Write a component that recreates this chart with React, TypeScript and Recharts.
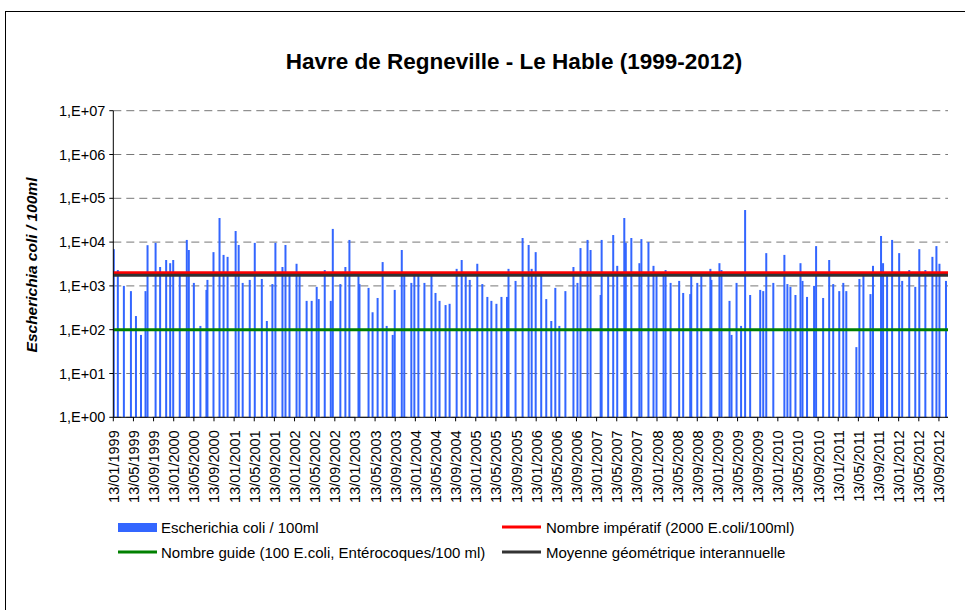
import React from 'react';
import { BarChart, Bar, XAxis, YAxis, CartesianGrid, ReferenceLine } from 'recharts';

// months elapsed since 13/01/1999 for each sample
const sampleMonths = [
  0.1, 0.9, 2.1, 3.5, 4.5, 5.5, 6.4, 6.8, 8.4, 9.3, 10.5, 11.3, 11.9, 13.2, 14.6, 15.0,
  16.0, 17.3, 18.5, 18.7, 19.9, 21.1, 21.9, 22.7, 24.3, 24.9, 25.7, 27.1, 28.1, 29.5, 30.5,
  31.6, 32.2, 33.6, 34.2, 35.0, 36.4, 37.0, 38.4, 39.4, 40.4, 40.8, 42.0, 43.2, 43.6, 45.1,
  46.1, 46.9, 48.7, 48.9, 50.7, 51.5, 52.5, 53.5, 54.3, 55.5, 55.9, 57.3, 57.8, 59.2, 59.8,
  60.6, 61.8, 63.2, 64.0, 64.8, 66.0, 66.8, 68.2, 69.2, 70.0, 70.8, 72.3, 73.3, 74.3, 75.1,
  76.1, 77.1, 78.2, 78.5, 79.9, 81.3, 82.5, 83.1, 83.9, 85.0, 86.0, 87.0, 87.8, 88.6, 89.8,
  91.4, 92.2, 92.8, 94.2, 94.8, 96.8, 97.0, 98.3, 99.3, 100.1, 101.5, 101.8, 102.9, 104.5,
  104.9, 106.3, 107.3, 107.9, 109.3, 109.7, 110.7, 112.4, 113.2, 114.6, 114.8, 116.0, 116.8,
  118.6, 118.8, 120.4, 120.8, 122.4, 122.8, 123.8, 124.7, 125.5, 126.5, 128.5, 129.1, 129.7,
  131.1, 133.3, 133.9, 134.5, 135.5, 136.5, 136.9, 137.8, 139.2, 139.6, 141.0, 142.2, 143.0,
  144.2, 145.0, 145.6, 147.6, 148.2, 149.0, 150.4, 150.9, 152.5, 152.9, 153.7, 154.7, 156.1,
  156.7, 158.1, 159.3, 160.1, 161.3, 162.7, 163.5, 164.1, 165.4,
];

// Escherichia coli / 100ml
const ecoliValues = [
  6900, 2300, 1000, 760, 205, 76, 760, 8500, 9600, 2700, 3900, 3300, 3900, 2000, 11200, 6600,
  1170, 122, 810, 1370, 5900, 35500, 5100, 4600, 17900, 8600, 1170, 1370, 9600, 1440, 158,
  1100, 9600, 2700, 8600, 2000, 3200, 1900, 455, 455, 950, 500, 2300, 455, 20000, 1100,
  2700, 11200, 2000, 1100, 900, 250, 530, 3500, 122, 76, 810, 6600, 1900, 1170, 2000,
  1900, 1170, 2000, 690, 455, 365, 390, 2450, 3900, 2000, 1370, 3200, 1100, 560, 455,
  390, 560, 560, 2450, 1300, 12400, 8600, 2450, 5900, 2000, 500, 158, 900, 122, 760,
  2700, 1170, 7300, 11200, 6600, 620, 11200, 2000, 14500, 2870, 35500, 9600, 12400, 3300,
  11700, 10000, 2870, 2000, 2000, 2300, 1170, 1300, 690, 650, 2000, 1170, 2000,
  2450, 1370, 3300, 2300, 455, 76, 1170, 122, 54000, 620, 810, 760, 5600,
  1170, 5100, 1100, 950, 620, 3300, 1300, 560, 1000, 8100, 530, 3900, 1100,
  760, 1170, 760, 40, 1440, 2000, 650, 2870, 13800, 3300, 2000, 11200, 5600,
  1300, 2300, 950, 6900, 2300, 4600, 8100, 3200, 1300,
];

const tickLabels = [
  '13/01/1999', '13/05/1999', '13/09/1999', '13/01/2000', '13/05/2000', '13/09/2000',
  '13/01/2001', '13/05/2001', '13/09/2001', '13/01/2002', '13/05/2002', '13/09/2002',
  '13/01/2003', '13/05/2003', '13/09/2003', '13/01/2004', '13/05/2004', '13/09/2004',
  '13/01/2005', '13/05/2005', '13/09/2005', '13/01/2006', '13/05/2006', '13/09/2006',
  '13/01/2007', '13/05/2007', '13/09/2007', '13/01/2008', '13/05/2008', '13/09/2008',
  '13/01/2009', '13/05/2009', '13/09/2009', '13/01/2010', '13/05/2010', '13/09/2010',
  '13/01/2011', '13/05/2011', '13/09/2011', '13/01/2012', '13/05/2012', '13/09/2012',
];
const xTicks = tickLabels.map((_, i) => i * 4);
const yTicks = [1, 10, 100, 1000, 10000, 100000, 1000000, 10000000];

const imperativeLevel = 2000;
const guideLevel = 100;
const geoMeanLevel = 1750;

const data = sampleMonths.map((m, i) => ({ month: m, ecoli: ecoliValues[i] }));

const FONT = '"Liberation Sans", Arial, sans-serif';
const BLUE = '#3366FF';

const formatPower = (v: number) => `1,E+${String(Math.round(Math.log10(v))).padStart(2, '0')}`;

function DateTick(props: any) {
  const { x, y, index } = props;
  const tx = x + 5.5;
  const ty = y + 7;
  return (
    <text
      x={tx}
      y={ty}
      transform={`rotate(-90 ${tx} ${ty})`}
      textAnchor="end"
      fontSize={14.5}
      fontFamily={FONT}
      fill="#000"
    >
      {tickLabels[index]}
    </text>
  );
}

function ThinBar(props: any) {
  const { x, y, width, height } = props;
  if (!height || height <= 0) return null;
  return <rect x={x + width / 2 - 1} y={y} width={2} height={height} fill={BLUE} />;
}

export default function App() {
  return (
    <div style={{ position: 'absolute', left: 0, top: 0, width: 965, height: 610, background: '#fff', overflow: 'hidden' }}>
      <div style={{ position: 'absolute', left: 0, top: 0 }}>
        <BarChart
          width={965}
          height={610}
          data={data}
          margin={{ top: 110.7, right: 17, bottom: 102.7, left: 53.3 }}
        >
          <CartesianGrid vertical={false} stroke="#777" strokeDasharray="8 5" />
          <XAxis
            type="number"
            dataKey="month"
            domain={[0, 165.8]}
            ticks={xTicks}
            interval={0}
            tick={<DateTick />}
            tickSize={4}
            height={90}
            stroke="#000"
            allowDataOverflow
          />
          <YAxis
            type="number"
            scale="log"
            domain={[1, 10000000]}
            ticks={yTicks}
            interval={0}
            tickFormatter={formatPower}
            tick={{ fontSize: 14.5, fontFamily: FONT, fill: '#000' }}
            tickSize={4}
            tickMargin={4}
            width={60}
            stroke="#000"
            allowDataOverflow
          />
          <Bar dataKey="ecoli" fill={BLUE} shape={<ThinBar />} isAnimationActive={false} />
          <ReferenceLine y={guideLevel} stroke="#008000" strokeWidth={3} />
          <ReferenceLine y={imperativeLevel} stroke="#ff0000" strokeWidth={3} />
          <ReferenceLine y={geoMeanLevel} stroke="#333333" strokeWidth={3} />
        </BarChart>
      </div>
      <svg
        width={965}
        height={610}
        style={{ position: 'absolute', left: 0, top: 0, pointerEvents: 'none' }}
        fontFamily={FONT}
      >
        <rect x={5.5} y={11.5} width={980} height={620} fill="none" stroke="#000" strokeWidth={1} />
        <text x={514} y={69} textAnchor="middle" fontSize={22.5} fontWeight="bold">
          Havre de Regneville - Le Hable (1999-2012)
        </text>
        <text
          x={31}
          y={265}
          transform="rotate(-90 31 265)"
          textAnchor="middle"
          dominantBaseline="central"
          fontSize={15.5}
          fontWeight="bold"
          fontStyle="italic"
        >
          Escherichia coli / 100ml
        </text>
        <rect x={118} y={523} width={39} height={9} fill={BLUE} />
        <text x={161} y={532.5} fontSize={15}>Escherichia coli / 100ml</text>
        <line x1={502} x2={541} y1={527} y2={527} stroke="#ff0000" strokeWidth={3} />
        <text x={546} y={532.5} fontSize={15}>Nombre impératif (2000 E.coli/100ml)</text>
        <line x1={118} x2={157} y1={552} y2={552} stroke="#008000" strokeWidth={3} />
        <text x={161} y={557.5} fontSize={15}>Nombre guide (100 E.coli, Entérocoques/100 ml)</text>
        <line x1={502} x2={541} y1={552} y2={552} stroke="#333333" strokeWidth={3} />
        <text x={546} y={557.5} fontSize={15}>Moyenne géométrique interannuelle</text>
      </svg>
    </div>
  );
}
